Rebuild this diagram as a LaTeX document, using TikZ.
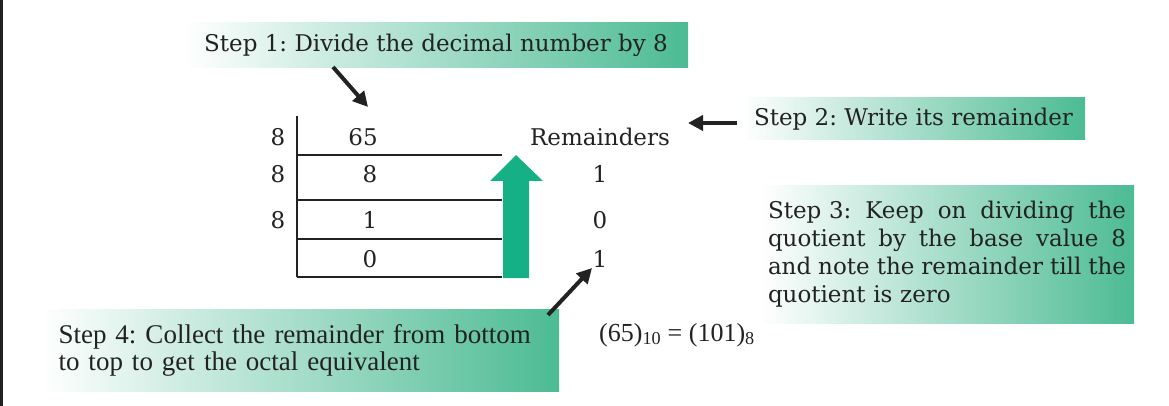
\documentclass[tikz,border=0pt]{standalone}
\usepackage{fontspec}
\setmainfont{DejaVu Serif}
\newfontfamily\narrowfont{Liberation Serif}
\usepackage{xcolor}
\definecolor{DarkGrey}{HTML}{222222}
\definecolor{BoxGreen}{RGB}{76,187,148}
\definecolor{ArrowGreen}{RGB}{22,176,134}
\usepackage{tikz}
\usetikzlibrary{arrows.meta,positioning}
\frenchspacing
\newcommand\StepFont{\fontsize{23}{28}\selectfont}
\newcommand\NoteFont{\narrowfont\fontsize{27}{27}\selectfont}
\newcommand\EqFont{\narrowfont\fontsize{26}{30}\selectfont}
\newcommand\ThreeWidth{358pt}
\newcommand\FullLine[1]{\leavevmode\hbox to \ThreeWidth{#1}}
\tikzstyle{stepbox}=[rectangle,inner sep=0pt,left color=white,right color=BoxGreen,
                     text=DarkGrey,font=\StepFont]
\tikzstyle{digit}=[inner sep=0pt,text=DarkGrey,font=\StepFont]
\tikzstyle{rule}=[DarkGrey,line width=2.6pt]
\tikzstyle{pointer}=[DarkGrey,line width=4pt,-{Triangle[length=15pt,width=15pt]}]

\begin{document}
\begin{tikzpicture}[x=1pt,y=-1pt]
      \useasboundingbox (0,0) rectangle (1169,406);
      \draw[DarkGrey,line width=3pt] (1.5,0) -- (1.5,406);
      \node[stepbox,minimum width=504pt,minimum height=45pt] (s1) at (436,45.5) {Step 1: Divide the decimal number by 8};
      \node[stepbox,minimum width=343pt,minimum height=42pt] (s2) at (913.5,119) {Step 2: Write its remainder};
      \node[stepbox,minimum width=374pt,minimum height=137pt,text width=\ThreeWidth,align=left] (s3) at (947,254.5)
           {\FullLine{Step 3:\hfill Keep\hfill on\hfill dividing\hfill the}\\
            \FullLine{quotient\hfill by\hfill the\hfill base\hfill value\hfill 8}\\
            \FullLine{and\hfill note\hfill the\hfill remainder\hfill till\hfill the}\\
            quotient is zero};
      \node[stepbox,minimum width=519pt,minimum height=82pt,text width=482pt,align=left,font=\NoteFont] (s4) at (299.5,350)
           {\mbox{Step 4: Collect the remainder from bottom}\\\mbox{to top to get the octal equivalent}};
      \draw[rule] (297,116) -- (297,277);
      \draw[rule] (297,155) -- (502,155);
      \draw[rule] (297,200) -- (502,200);
      \draw[rule] (297,239) -- (502,239);
      \draw[rule] (297,277) -- (502,277);
      \node[digit] (d1) at (278,137) {8};
      \node[digit] (d2) at (278,174) {8};
      \node[digit] (d3) at (278,220) {8};
      \node[digit] (q1) at (363,137) {65};
      \node[digit] (q2) at (370,174) {8};
      \node[digit] (q3) at (370,220) {1};
      \node[digit] (q4) at (370,259) {0};
      \node[digit] (r0) at (600,137) {Remainders};
      \node[digit] (r1) at (600,174) {1};
      \node[digit] (r2) at (600,220) {0};
      \node[digit] (r3) at (600,259) {1};
      \fill[ArrowGreen] (503,278) -- (503,181) -- (490,181) -- (516,155) -- (543,181) -- (529,181) -- (529,278) -- cycle;
      \coordinate (p1a) at (333,67);
      \coordinate (p1b) at (368,107);
      \coordinate (p2a) at (737,123);
      \coordinate (p2b) at (688,123);
      \coordinate (p4a) at (548,315);
      \coordinate (p4b) at (592,268);
      \draw[pointer] (p1a) -- (p1b);
      \draw[pointer] (p2a) -- (p2b);
      \draw[pointer] (p4a) -- (p4b);
      \node[anchor=base west,inner sep=0pt,text=DarkGrey,font=\EqFont] (eq) at (599,341) {(65)\textsubscript{10} = (101)\textsubscript{8}};
   \end{tikzpicture}
\end{document}
